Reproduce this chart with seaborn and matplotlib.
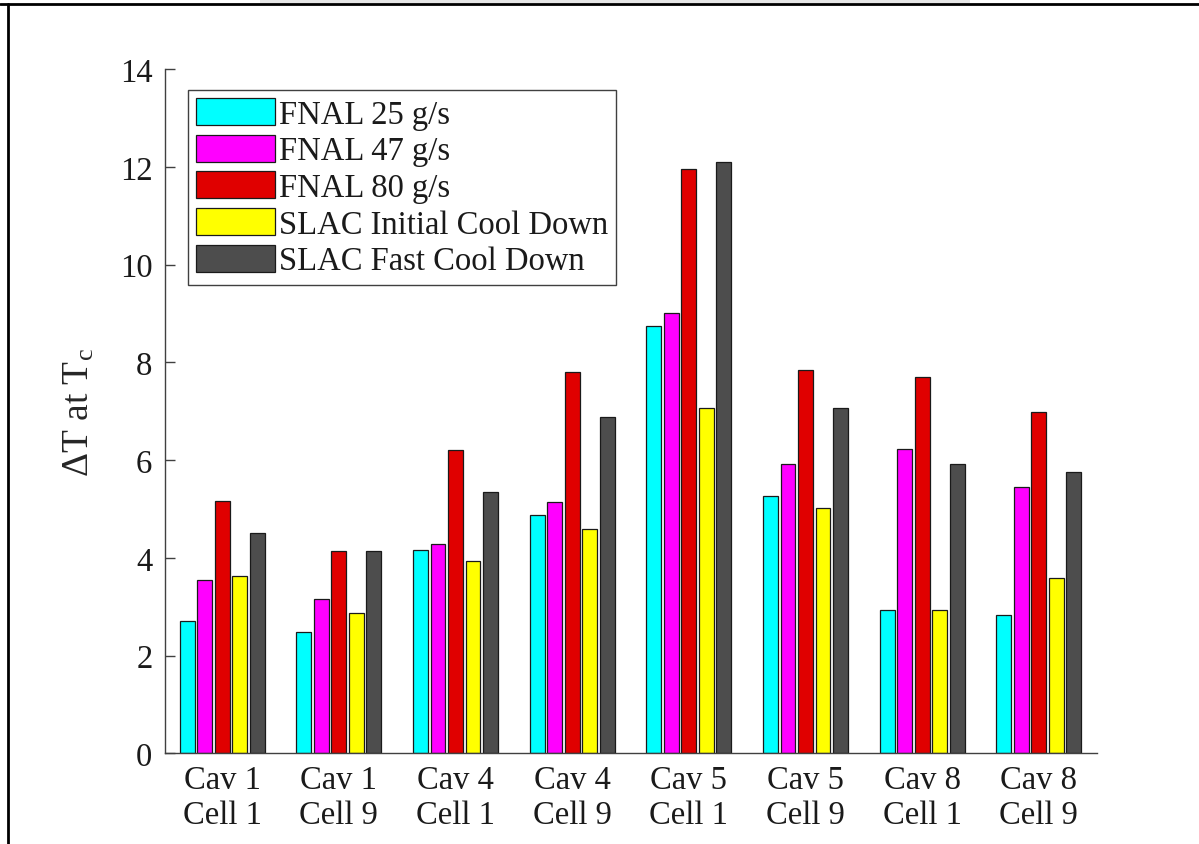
import matplotlib
matplotlib.use("Agg")
import matplotlib.pyplot as plt
import seaborn as sns
import pandas as pd
from matplotlib.lines import Line2D
from matplotlib.patches import Rectangle

categories = ["Cav 1\nCell 1", "Cav 1\nCell 9", "Cav 4\nCell 1", "Cav 4\nCell 9",
              "Cav 5\nCell 1", "Cav 5\nCell 9", "Cav 8\nCell 1", "Cav 8\nCell 9"]
series_names = ["FNAL 25 g/s", "FNAL 47 g/s", "FNAL 80 g/s",
                "SLAC Initial Cool Down", "SLAC Fast Cool Down"]
fnal_25 = [2.71, 2.49, 4.17, 4.88, 8.74, 5.27, 2.94, 2.83]
fnal_47 = [3.54, 3.15, 4.28, 5.14, 9.01, 5.93, 6.23, 5.44]
fnal_80 = [5.16, 4.13, 6.21, 7.80, 11.96, 7.85, 7.71, 6.98]
slac_initial = [3.62, 2.87, 3.94, 4.60, 7.06, 5.03, 2.94, 3.59]
slac_fast = [4.50, 4.13, 5.34, 6.89, 12.09, 7.06, 5.92, 5.76]
colors = ["#00FFFF", "#FF00FF", "#E00000", "#FFFF00", "#4D4D4D"]

rows = []
for name, vals in zip(series_names, [fnal_25, fnal_47, fnal_80, slac_initial, slac_fast]):
    for cat, v in zip(categories, vals):
        rows.append({"cat": cat, "series": name, "value": v})
df = pd.DataFrame(rows)

sns.set_style("white")
plt.rcParams["font.family"] = ["Liberation Serif", "DejaVu Serif"]
plt.rcParams["mathtext.fontset"] = "custom"
plt.rcParams["mathtext.rm"] = "Liberation Serif"
plt.rcParams["mathtext.it"] = "Liberation Serif"

fig = plt.figure(figsize=(11.99, 8.45), dpi=100)
ax = fig.add_axes([0.1376, 0.1073, 0.915 - 0.1376, 0.917 - 0.1073])

sns.barplot(data=df, x="cat", y="value", hue="series", order=categories,
            hue_order=series_names, palette=colors, width=0.75, gap=0.15,
            edgecolor="#1a1a1a", linewidth=0.9, saturation=1, ax=ax, errorbar=None)

ax.set_xlim(-0.49, 7.5)
ax.set_ylim(0, 14)
ax.set_yticks(range(0, 15, 2))
ax.set_xlabel("")
ax.set_ylabel(r"ΔT at T$_{\mathrm{c}}$", fontsize=27, labelpad=17)
ax.tick_params(axis="y", left=True, direction="in", length=7, width=1, colors="#404040",
               labelcolor="#1a1a1a", labelsize=23.5, pad=9)
ax.tick_params(axis="x", bottom=False, length=0, labelsize=23.5, labelcolor="#1a1a1a", pad=8)
for lab in ax.get_xticklabels():
    lab.set_linespacing(1.2)
for s in ["top", "right"]:
    ax.spines[s].set_visible(False)
for s in ["left", "bottom"]:
    ax.spines[s].set_color("#404040")
    ax.spines[s].set_linewidth(1.0)

leg = ax.legend(loc="upper left", bbox_to_anchor=(0.025, 0.97), fontsize=23.5,
                frameon=True, fancybox=False, framealpha=1, edgecolor="#404040",
                handlelength=2.4, handleheight=0.9, labelspacing=0.15,
                handletextpad=0.12, borderpad=0.25, borderaxespad=0)
leg.get_frame().set_linewidth(1.0)
for t in leg.get_texts():
    t.set_color("#1a1a1a")

# outer screenshot frame
fig.add_artist(Rectangle((260 / 1199, 1 - 4 / 845), 710 / 1199, 4 / 845,
                         transform=fig.transFigure, facecolor="#E6E6E6",
                         edgecolor="none"))
fig.add_artist(Line2D([0, 1], [1 - 5 / 845, 1 - 5 / 845], transform=fig.transFigure,
                      color="black", linewidth=2))
fig.add_artist(Line2D([8 / 1199, 8 / 1199], [0, 1 - 5 / 845], transform=fig.transFigure,
                      color="black", linewidth=2))

fig.savefig("out.png", dpi=100)
